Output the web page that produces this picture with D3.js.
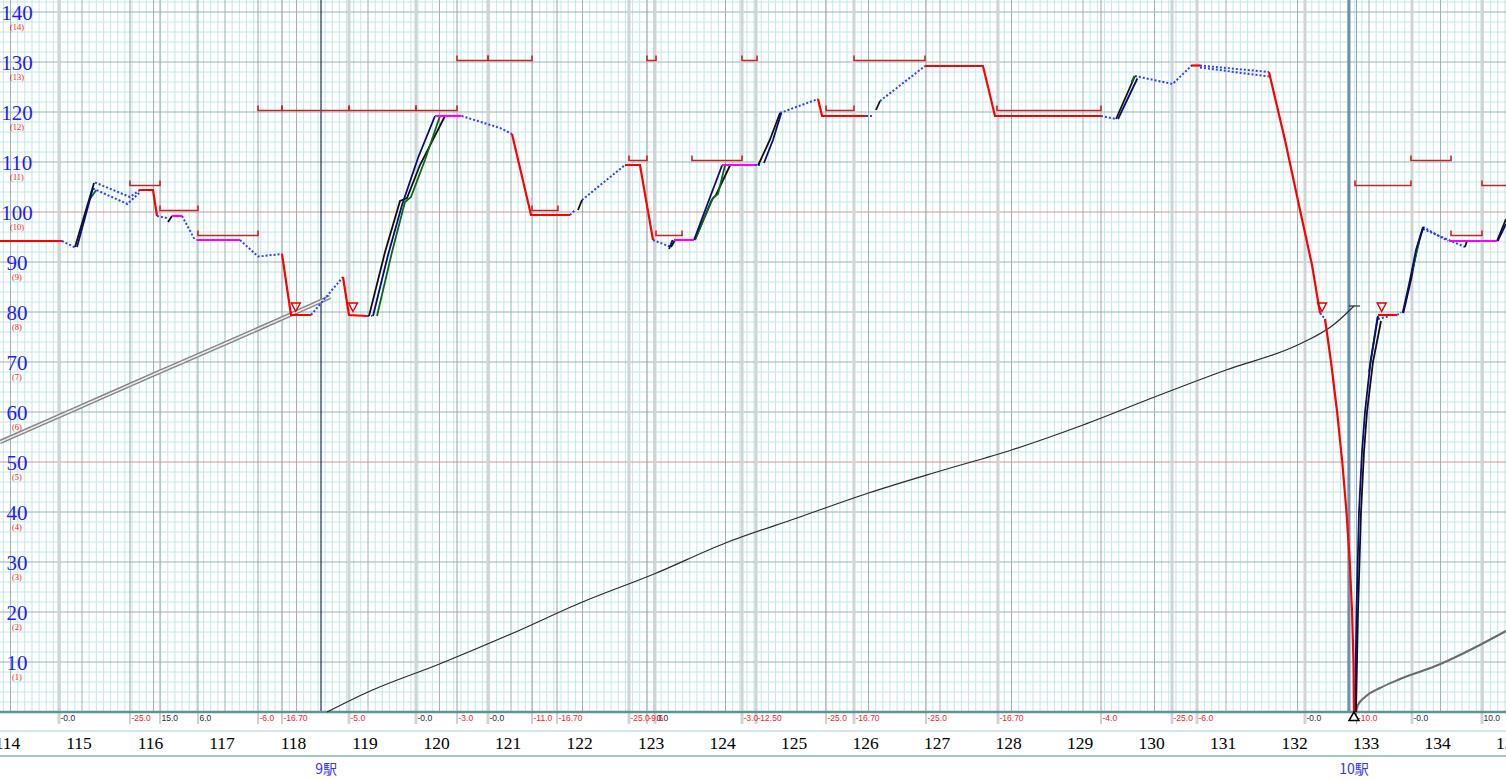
<!DOCTYPE html>
<html><head><meta charset="utf-8">
<script src="https://cdn.jsdelivr.net/npm/d3@7"></script>
<style>body{margin:0;background:#fff;overflow:hidden} svg{display:block}</style>
</head><body><svg id="c" width="1506" height="780"></svg>
<script>
// ---------------- DATA ----------------
const kmTicks = d3.range(114, 136);
const speedTicks = d3.range(10, 150, 10);
const speedSubLabels = speedTicks.map(v => "(" + (v / 10) + ")");
const stationNames = ["9駅", "10駅"];
const stationKm = [118.343, 132.720];

const gradeKm = [114.678,115.671,116.091,116.622,117.462,117.797,118.734,119.671,120.245,120.678,121.294,121.643,122.650,122.902,123.014,124.231,124.427,125.406,125.797,126.804,127.811,129.252,130.245,130.594,132.105,132.825,133.601,134.580];
const gradeText = ["-0.0","-25.0","15.0","6.0","-6.0","-16.70","-5.0","-0.0","-3.0","-0.0","-11.0","-16.70","-25.0","-9.6","0.0","-3.0","-12.50","-25.0","-16.70","-25.0","-16.70","-4.0","-25.0","-6.0","-0.0","-10.0","-0.0","10.0"];
const gradeKind = [1,0,0,0,0,0,1,1,0,1,0,0,1,0,1,1,1,0,1,0,1,0,1,1,1,0,1,1];

// speed limit sections [from km, to km, limit km/h]
const limitSections = [
 [115.671,116.091,105],[116.091,116.622,100],[116.622,117.462,95],
 [117.462,117.797,120],[117.797,118.734,120],[118.734,119.671,120],[119.671,120.245,120],
 [120.245,120.678,130],[120.678,121.294,130],[121.294,121.657,100],
 [122.650,122.902,110],[122.902,123.028,130],[123.028,123.392,95],
 [123.531,124.231,110],[124.231,124.441,130],
 [125.406,125.797,120],[125.797,126.790,130],[127.797,129.252,120],
 [132.804,133.587,105],[133.587,134.147,110],[134.147,134.580,95],[134.580,135.2,105]
];

// braking / restricted (red)
const brakeSegments = [
 [[113.85,94.2],[114.72,94.2]],
 [[115.797,104.4],[115.993,104.4],[116.049,99.2]],
 [[117.797,91.6],[117.923,79.4],[118.203,79.4]],
 [[118.650,87],[118.734,79.4],[118.986,79.2]],
 [[121.014,115.6],[121.280,99.4],[121.825,99.4]],
 [[122.594,109.4],[122.804,109.4],[122.986,94.4]],
 [[125.294,122.6],[125.350,119.2],[125.965,119.2]],
 [[126.790,129.2],[127.601,129.2],[127.769,119.2],[129.252,119.2]],
 [[130.510,129.3],[130.636,129.3]],
 [[131.601,128],[131.825,114.4],[132.035,100.4],[132.203,89.4],[132.315,79.8]],
 [[132.385,78.6],[132.469,70],[132.554,60],[132.626,50],[132.685,40],[132.731,30],[132.763,20],[132.783,10],[132.790,0]],
 [[133.126,79.4],[133.392,79.4]]
];

// coasting (blue dotted)
const coastSegments = [
 [[114.72,94.2],[114.902,92.9]],
 [[115.182,105.9],[115.671,103.0],[115.811,104.4]],
 [[115.154,104.7],[115.636,101.6],[115.797,103.8]],
 [[116.049,99.2],[116.189,98.8]],
 [[116.399,99.2],[116.580,94.4]],
 [[117.210,94.4],[117.462,91.1],[117.797,91.6]],
 [[118.203,79.4],[118.650,87]],
 [[118.986,79.2],[119.06,79.2]],
 [[120.31,119.2],[120.846,116.8],[121.014,115.6]],
 [[121.825,99.4],[121.895,100.4]],
 [[121.993,102.4],[122.594,109.4]],
 [[122.986,94.4],[123.238,93]],
 [[124.413,109.4],[124.483,109.4]],
 [[124.762,119.8],[125.294,122.6]],
 [[125.965,119.2],[126.049,119.2]],
 [[126.161,122.2],[126.790,129.2]],
 [[129.252,119.2],[129.462,118.6]],
 [[129.727,127.2],[130.254,125.6],[130.52,129.3]],
 [[130.636,129.3],[131.601,128]],
 [[130.636,128.9],[131.601,127.1]],
 [[132.315,79.8],[132.385,78.6]],
 [[133.126,78.6],[133.29,79.2]],
 [[133.392,79.4],[133.448,79.9]],
 [[133.755,97],[134.105,94.2]],
 [[133.755,96.6],[134.343,93]]
];

// constant speed (magenta)
const constSegments = [
 [[116.259,99.2],[116.399,99.2]],
 [[116.60,94.4],[117.210,94.4]],
 [[119.937,119.2],[120.31,119.2]],
 [[123.28,94.4],[123.559,94.4]],
 [[123.951,109.4],[124.413,109.4]],
 [[134.119,94.2],[134.79,94.2]]
];

// powering runs
const powerRunA = [
 [[114.902,93],[115.168,105.8]],
 [[116.203,98],[116.259,99.2]],
 [[119.014,79.2],[119.238,92],[119.448,102.2],[119.545,102.8],[119.727,109.4],[120.077,119.2]],
 [[121.937,100.4],[121.993,102.4]],
 [[123.238,93],[123.294,94.4]],
 [[123.573,94.4],[123.807,102.4],[123.867,103.4],[124.063,109.3]],
 [[124.455,109.3],[124.62,114.4],[124.762,119.8]],
 [[126.105,120.4],[126.161,122.2]],
 [[129.462,118.6],[129.727,127.2]],
 [[132.818,0],[132.846,20],[132.888,40],[132.930,52],[132.972,60],[133.056,70],[133.168,78.2]],
 [[133.48,79.8],[133.59,86.6],[133.67,92.6],[133.76,97]],
 [[134.343,93],[134.37,94.2]],
 [[134.79,94.2],[134.916,98.6]]
];
const powerRunB = [
 [[114.93,93],[115.154,104.8]],
 [[119.070,79.2],[119.280,91.4],[119.476,101.4],[119.699,110.8],[119.937,119.2]],
 [[123.21,92.6],[123.26,94.4]],
 [[123.559,94.4],[123.951,109.3]],
 [[124.538,109.8],[124.664,114.4],[124.78,119.8]],
 [[129.49,118.6],[129.76,126.7]],
 [[132.804,0],[132.825,20],[132.860,40],[132.902,52],[132.944,60],[133.021,70],[133.126,79.2]],
 [[133.471,79.8],[133.573,86.4],[133.657,92.4],[133.755,97]],
 [[134.80,94.2],[134.916,97.6]]
];
const powerRunC = [
 [[115.1,102.4],[115.2,104.4]],
 [[119.126,79.2],[119.336,92],[119.517,102],[119.601,103],[119.797,110.4],[120.007,119.2]],
 [[123.573,94.4],[123.825,102.8],[123.895,103.6],[123.993,109.3]],
 [[129.68,126],[129.72,127.2]],
 [[133.0,68],[133.12,79]],
 [[133.60,88],[133.70,94]]
];

// running time curves (plotted on the speed axis units)
const timePrev = [[113.853,54],[115,61.2],[116,67.5],[117,73.7],[118,80],[118.47,83]];
const timeMain = [[118.427,0],[119,4],[120,9.6],[121,15.6],[122,22],[123,27.6],[124,33.8],[125,38.8],[126,43.8],[127,48.2],[128,52.4],[129,57.4],[130,63],[131,68.4],[132,73.4],[132.5,77.4],[132.69,79.8],[132.79,81.2]];
const timeNext = [[132.818,0],[132.846,1.4],[132.944,3],[133.154,4.8],[133.434,6.6],[134,9.6],[134.413,12.4],[134.916,16.2]];

const brakeMarkKm = [117.99, 118.79, 132.343, 133.177];
const brakeMarkSpeed = 81;
const stopMarkKm = 132.790;

// ---------------- DRAW ----------------
const W = 1506, H = 780, AX = 712;
const svg = d3.select("#c");
const x = d3.scaleLinear().domain([115, 134]).range([82, 1440.5]);
const y = d3.scaleLinear().domain([0, 140]).range([AX, 12]);
const line = d3.line().x(d => x(d[0])).y(d => y(d[1]));
const smooth = d3.line().x(d => x(d[0])).y(d => y(d[1])).curve(d3.curveMonotoneX);

svg.append("rect").attr("width", W).attr("height", H).attr("fill", "#fff");

const g = svg.append("g");
// minor grid
const kmMin = x.invert(0), kmMax = x.invert(W);
const minorKm = d3.range(Math.ceil(kmMin * 10), Math.floor(kmMax * 10) + 1).map(i => i / 10).filter(k => Math.abs(k - Math.round(k)) > 1e-6);
g.selectAll(".vmin").data(minorKm).join("line")
  .attr("x1", d => x(d)).attr("x2", d => x(d)).attr("y1", 0).attr("y2", AX)
  .attr("stroke", "#c2e7e7").attr("stroke-width", 1);
const minorV = d3.range(2, 146, 2).filter(v => v % 10 !== 0);
g.selectAll(".hmin").data(minorV).join("line")
  .attr("x1", 0).attr("x2", W).attr("y1", d => y(d)).attr("y2", d => y(d))
  .attr("stroke", "#c2e7e7").attr("stroke-width", 1);
// major grid
g.selectAll(".vmaj").data(kmTicks).join("line")
  .attr("x1", d => x(d)).attr("x2", d => x(d)).attr("y1", 0).attr("y2", AX)
  .attr("stroke", "#98b4b4").attr("stroke-width", 1);
g.selectAll(".hmaj").data(speedTicks).join("line")
  .attr("x1", 0).attr("x2", W).attr("y1", d => y(d)).attr("y2", d => y(d))
  .attr("stroke", d => d % 50 === 0 ? "#c79a9a" : "#98b4b4").attr("stroke-width", 1);

// grade change lines
const grades = gradeKm.map((k, i) => ({k, t: gradeText[i], kind: gradeKind[i]}));
g.selectAll(".gl").data(grades).join("line")
  .attr("x1", d => x(d.k)).attr("x2", d => x(d.k)).attr("y1", 0).attr("y2", AX + 12)
  .attr("stroke", d => d.kind ? "#cfd5d5" : "#9aa2a2").attr("stroke-width", d => d.kind ? 3 : 1);

// station lines
svg.append("line").attr("x1", x(stationKm[0])).attr("x2", x(stationKm[0])).attr("y1", 0).attr("y2", AX)
  .attr("stroke", "#1b2c4c").attr("stroke-width", 1.2);
svg.append("line").attr("x1", x(stationKm[1])).attr("x2", x(stationKm[1])).attr("y1", 0).attr("y2", AX)
  .attr("stroke", "#6f8fae").attr("stroke-width", 3);

// axis and bottom band
svg.append("line").attr("x1", 0).attr("x2", W).attr("y1", AX).attr("y2", AX).attr("stroke", "#5f9494").attr("stroke-width", 2.5);
svg.append("line").attr("x1", 0).attr("x2", W).attr("y1", 731).attr("y2", 731).attr("stroke", "#c6e0e0").attr("stroke-width", 1.5);
svg.append("line").attr("x1", 0).attr("x2", W).attr("y1", 756).attr("y2", 756).attr("stroke", "#a3c6c6").attr("stroke-width", 2);

// time curves
svg.append("path").attr("d", smooth(timePrev)).attr("fill", "none").attr("stroke", "#858585").attr("stroke-width", 4.5);
svg.append("path").attr("d", smooth(timePrev)).attr("fill", "none").attr("stroke", "#eeeeee").attr("stroke-width", 1.5);
svg.append("path").attr("d", smooth(timeMain)).attr("fill", "none").attr("stroke", "#2a2a2a").attr("stroke-width", 1.2);
const tEnd = timeMain[timeMain.length - 1];
svg.append("line").attr("x1", x(tEnd[0]) - 5).attr("x2", x(tEnd[0]) + 6).attr("y1", y(tEnd[1])).attr("y2", y(tEnd[1]))
  .attr("stroke", "#2a2a2a").attr("stroke-width", 1.2);
svg.append("path").attr("d", smooth(timeNext)).attr("fill", "none").attr("stroke", "#6a6a6a").attr("stroke-width", 2);

// speed limit brackets
const bk = svg.append("g").attr("stroke", "#c42626").attr("stroke-width", 1.6).attr("fill", "none");
bk.selectAll("path").data(limitSections).join("path")
  .attr("d", d => {
    const x1 = x(d[0]), x2 = x(d[1]), yy = y(d[2]) - 1.5;
    return `M${x1},${yy - 5}V${yy}H${x2}V${yy - 5}`;
  });

// coasting
svg.append("g").selectAll("path").data(coastSegments).join("path")
  .attr("d", line).attr("fill", "none").attr("stroke", "#2f3cff").attr("stroke-width", 2).attr("stroke-dasharray", "2,2");
// powering
const runs = [[powerRunA, "#101010"], [powerRunC, "#0b6a0b"], [powerRunB, "#0a0a78"]];
runs.forEach(([segs, col]) => {
  svg.append("g").selectAll("path").data(segs).join("path")
    .attr("d", line).attr("fill", "none").attr("stroke", col).attr("stroke-width", 1.8);
});
// constant
svg.append("g").selectAll("path").data(constSegments).join("path")
  .attr("d", line).attr("fill", "none").attr("stroke", "#ff00ff").attr("stroke-width", 2.2);
// braking
svg.append("g").selectAll("path").data(brakeSegments).join("path")
  .attr("d", line).attr("fill", "none").attr("stroke", "#ff0000").attr("stroke-width", 2.2);

// brake marks
svg.append("g").selectAll("path").data(brakeMarkKm).join("path")
  .attr("d", d => { const cx = x(d), cy = y(brakeMarkSpeed); return `M${cx - 4.5},${cy - 4}L${cx + 4.5},${cy - 4}L${cx},${cy + 4.5}Z`; })
  .attr("fill", "none").attr("stroke", "#e00000").attr("stroke-width", 1.4);

// grade labels
svg.append("g").selectAll("text").data(grades).join("text")
  .attr("x", d => x(d.k) + 1.5).attr("y", 721)
  .attr("font-family", "Liberation Sans, Arial, sans-serif").attr("font-size", 8.5)
  .attr("fill", d => (d.t[0] === "-" && d.t !== "-0.0") ? "#ff2020" : "#1a2a3a")
  .text(d => d.t);

// stop mark (drawn over the labels)
{
  const cx = x(stopMarkKm), cy = y(0);
  svg.append("path").attr("d", `M${cx},${cy}L${cx + 5},${cy + 8.5}L${cx - 5},${cy + 8.5}Z`)
    .attr("fill", "#fff").attr("stroke", "#000").attr("stroke-width", 1.5);
}

// km labels
svg.append("g").selectAll("text").data(kmTicks).join("text")
  .attr("x", d => x(d) - 3).attr("y", 749).attr("text-anchor", "middle")
  .attr("font-family", "Liberation Serif, Times New Roman, serif").attr("font-size", 17.5)
  .attr("fill", "#000").text(d => d);

// station labels
svg.append("g").selectAll("text").data(stationNames).join("text")
  .attr("x", (d, i) => x(stationKm[i]) + 5).attr("y", 774).attr("text-anchor", "middle")
  .attr("font-family", "Noto Sans CJK JP, sans-serif").attr("font-size", 14)
  .attr("fill", "#3434ff").text(d => d);

// speed labels
svg.append("g").selectAll("text").data(speedTicks).join("text")
  .attr("x", 17).attr("y", d => y(d) + 8).attr("text-anchor", "middle")
  .attr("font-family", "Liberation Serif, Times New Roman, serif").attr("font-size", 21)
  .attr("fill", "#1c1cff").text(d => d);
svg.append("g").selectAll("text").data(speedTicks).join("text")
  .attr("x", 17).attr("y", d => y(d) + 18).attr("text-anchor", "middle")
  .attr("font-family", "Liberation Serif, Times New Roman, serif").attr("font-size", 8.5)
  .attr("fill", "#ff1a1a").text((d, i) => speedSubLabels[i]);
</script></body></html>
